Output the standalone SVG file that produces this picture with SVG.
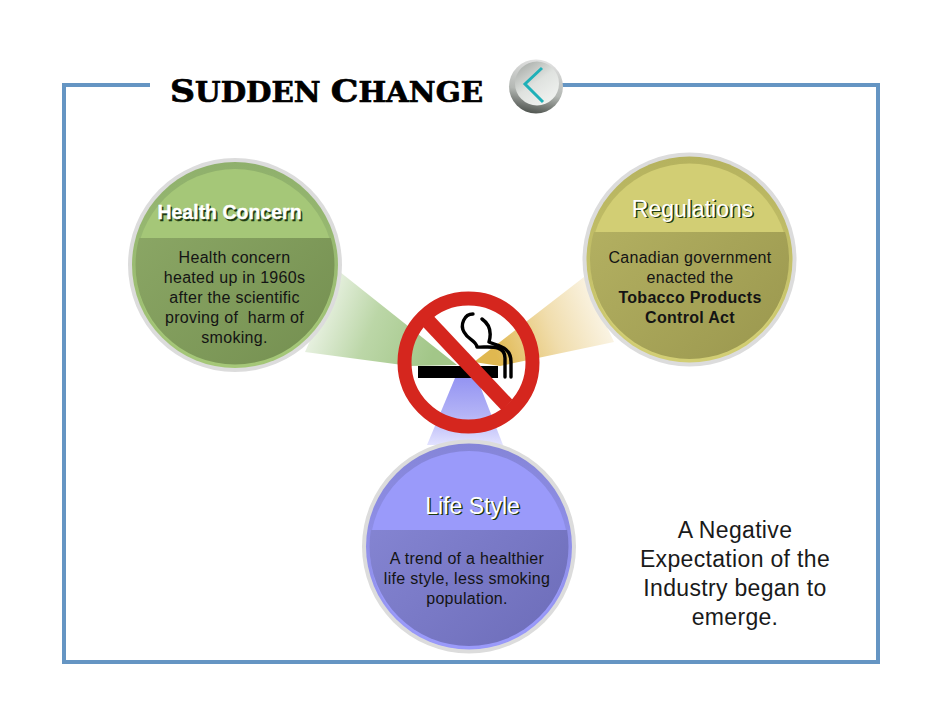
<svg xmlns="http://www.w3.org/2000/svg" width="942" height="728" viewBox="0 0 942 728">
<style>
text{font-family:"Liberation Sans",Arial,sans-serif;text-anchor:middle;white-space:pre}
.b{font-size:16px;letter-spacing:.3px;fill:#141414}
.bb{font-weight:bold}
.h{font-size:23px;letter-spacing:0}
.hh{font-size:19.500px;stroke-width:.35px}
.s{fill:#1d3a10}
.hh.s{stroke:#1d3a10}
.w{fill:#fff}
.hh.w{stroke:#fff}
.side{font-size:23px;letter-spacing:.33px;fill:#1a1a1a}
.ring{fill:#dcdcdc}
.smoke{fill:none;stroke:#000;stroke-width:3.4;stroke-linecap:round;stroke-linejoin:round}
.cap{font-size:32px}
.low{font-size:27px}
</style>
<defs>
<linearGradient id="gG" x1="0" y1="0" x2="1" y2="0.25"><stop offset="0" stop-color="#a5c98a" stop-opacity="0"/><stop offset=".55" stop-color="#a5c98a" stop-opacity=".75"/><stop offset="1" stop-color="#a2c688"/></linearGradient>
<linearGradient id="gY" x1="1" y1="0" x2="0" y2="0.25"><stop offset="0" stop-color="#e2bc5c" stop-opacity=".02"/><stop offset=".55" stop-color="#e2bc5c" stop-opacity=".5"/><stop offset="1" stop-color="#e0b850"/></linearGradient>
<linearGradient id="gP" x1="0" y1="0" x2="0" y2="1"><stop offset="0" stop-color="#9494f2"/><stop offset=".55" stop-color="#b4b4f6"/><stop offset="1" stop-color="#e2e2ff"/></linearGradient>
<linearGradient id="b1" x1="0" y1="0" x2="1" y2="1"><stop offset="0" stop-color="#8fab69"/><stop offset="1" stop-color="#748f50"/></linearGradient>
<linearGradient id="b2" x1="0" y1="0" x2="1" y2="1"><stop offset="0" stop-color="#b8b565"/><stop offset="1" stop-color="#9a974e"/></linearGradient>
<linearGradient id="b3" x1="0" y1="0" x2="1" y2="1"><stop offset="0" stop-color="#8a8ad8"/><stop offset="1" stop-color="#6c6cb8"/></linearGradient>
<linearGradient id="e1" x1="0" y1="0" x2="0" y2="1"><stop offset="0" stop-color="#8fb06c"/><stop offset="1" stop-color="#a5c778"/></linearGradient>
<linearGradient id="e2" x1="0" y1="0" x2="0" y2="1"><stop offset="0" stop-color="#b5b25e"/><stop offset="1" stop-color="#d2ce74"/></linearGradient>
<linearGradient id="e3" x1="0" y1="0" x2="0" y2="1"><stop offset="0" stop-color="#8585d8"/><stop offset="1" stop-color="#9a9afa"/></linearGradient>
<linearGradient id="btn" x1="0.1" y1="0" x2="0.8" y2="1"><stop offset="0" stop-color="#a4a8a4"/><stop offset=".5" stop-color="#dfe2df"/><stop offset="1" stop-color="#f2f4f2"/></linearGradient>
<linearGradient id="rim" x1="0.6" y1="0" x2="0.4" y2="1"><stop offset="0" stop-color="#e2e2e2"/><stop offset=".6" stop-color="#b4b8b4"/><stop offset="1" stop-color="#4e534e"/></linearGradient>
<clipPath id="c1"><rect x="120" y="238" width="240" height="140"/></clipPath>
<clipPath id="c2"><rect x="575" y="232" width="240" height="140"/></clipPath>
<clipPath id="c3"><rect x="350" y="530" width="240" height="130"/></clipPath>
</defs>
<rect width="942" height="728" fill="#fff"/>
<g id="connectors">
<polygon points="340,272 457,365 410,366 305,352" fill="url(#gG)"/>
<polygon points="584,277 474,362 500,366 614,342" fill="url(#gY)"/>
<polygon points="455,378 477,378 503,445 427,445" fill="url(#gP)"/>
</g>
<g id="frame"><path d="M150 85H64V662H878V85H562" fill="none" stroke="#6595c3" stroke-width="4"/></g>
<g id="title"><text x="326.500" y="102" style="font-family:'DejaVu Serif',serif;font-weight:bold;stroke:#000;stroke-width:.7px" textLength="313" lengthAdjust="spacingAndGlyphs"><tspan class="cap">S</tspan><tspan class="low">UDDEN </tspan><tspan class="cap">C</tspan><tspan class="low">HANGE</tspan></text></g>
<g id="back-button">
<circle cx="536" cy="86.500" r="27" fill="url(#rim)"/>
<circle cx="537" cy="83.500" r="22" fill="url(#btn)"/>
<path d="M542 68 525 84 543 102" fill="none" stroke="#1fb0b8" stroke-width="3"/>
</g>
<g id="no-smoking">
<circle cx="468.500" cy="362.500" r="64" fill="none" stroke="#d5261e" stroke-width="14"/>
<rect x="418" y="366" width="80" height="12" fill="#000"/>
<path class="smoke" d="M473 314C464 314 460 325 464 332 468 340 476 340 477 347 485 348 505 343 505 358V377"/>
<path class="smoke" d="M482 319C492 326 491 335 489 342 497 346 511 346 511 362V377"/>
<path d="M427 320 507 405" stroke="#d5261e" stroke-width="15" fill="none"/>
</g>
<g id="health">
<circle class="ring" cx="235" cy="265" r="107"/>
<circle cx="235" cy="265" r="103" fill="url(#e1)"/>
<circle cx="235" cy="268" r="99" fill="#a5c778"/>
<circle cx="235" cy="265" r="99.500" fill="url(#b1)" clip-path="url(#c1)"/>
<text class="hh s bb" x="231" y="220.500">Health Concern</text><text class="hh w bb" x="229.500" y="219">Health Concern</text>
<text class="b" x="234.500" y="263">Health concern</text>
<text class="b" x="234.500" y="283">heated up in 1960s</text>
<text class="b" x="234.500" y="303">after the scientific</text>
<text class="b" x="234.500" y="323">proving of  harm of</text>
<text class="b" x="234.500" y="343">smoking.</text>
</g>
<g id="regulations">
<circle class="ring" cx="689.500" cy="259.500" r="107"/>
<circle cx="689.500" cy="259.500" r="103" fill="url(#e2)"/>
<circle cx="689.500" cy="262.500" r="99" fill="#d2ce74"/>
<circle cx="689.500" cy="259.500" r="99.500" fill="url(#b2)" clip-path="url(#c2)"/>
<text class="h s" x="694" y="218">Regulations</text><text class="h w" x="692.500" y="216.500">Regulations</text>
<text class="b" x="690" y="263">Canadian government</text>
<text class="b" x="690" y="283">enacted the</text>
<text class="b bb" x="690" y="303">Tobacco Products</text>
<text class="b bb" x="690" y="323">Control Act</text>
</g>
<g id="lifestyle">
<circle class="ring" cx="469" cy="546.500" r="107"/>
<circle cx="469" cy="546.500" r="103" fill="url(#e3)"/>
<circle cx="469" cy="550" r="99" fill="#9a9afa"/>
<circle cx="469" cy="546.500" r="99.500" fill="url(#b3)" clip-path="url(#c3)"/>
<text class="h s" x="474" y="515">Life Style</text><text class="h w" x="472.500" y="513.500">Life Style</text>
<text class="b" x="467" y="564">A trend of a healthier</text>
<text class="b" x="467" y="584">life style, less smoking</text>
<text class="b" x="467" y="604">population.</text>
</g>
<g id="note">
<text class="side" x="735" y="538">A Negative</text>
<text class="side" x="735" y="567">Expectation of the</text>
<text class="side" x="735" y="596">Industry began to</text>
<text class="side" x="735" y="625">emerge.</text>
</g>
</svg>
